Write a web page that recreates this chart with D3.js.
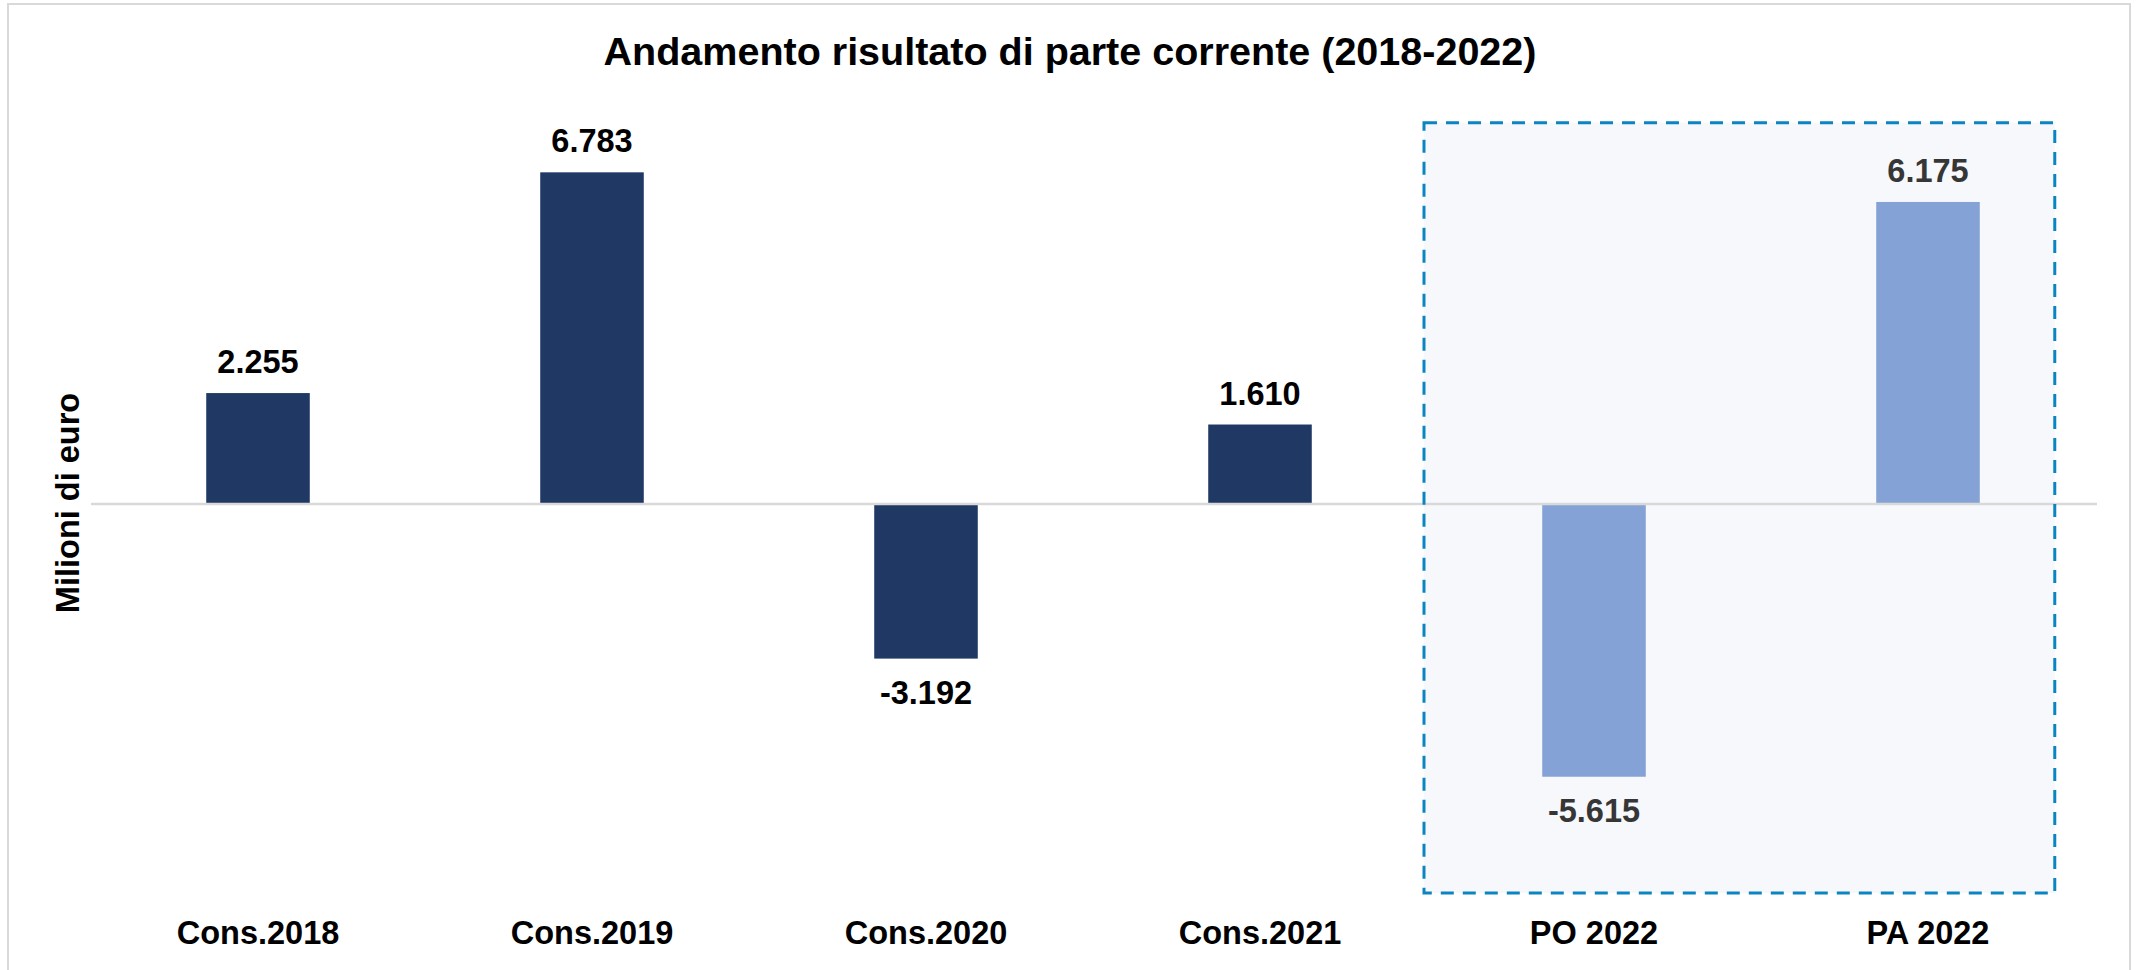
<!DOCTYPE html>
<html>
<head>
<meta charset="utf-8">
<script src="https://cdn.jsdelivr.net/npm/d3@7"></script>
<style>
  body { margin: 0; background: #fff; }
  svg text { font-family: "Liberation Sans", Arial, sans-serif; font-weight: bold; }
</style>
</head>
<body>
<svg width="2136" height="970"></svg>
<script>
// dati (milioni di euro)
var categories = ["Cons.2018", "Cons.2019", "Cons.2020", "Cons.2021", "PO 2022", "PA 2022"];
var values = [2255, 6783, -3192, 1610, -5615, 6175];
var kinds = ["cons", "cons", "cons", "cons", "prev", "prev"];
var yDomain = [-8000, 8000];

var title = "Andamento risultato di parte corrente (2018-2022)";
var yTitle = "Milioni di euro";

var svg = d3.select("svg"),
    width = +svg.attr("width"),
    height = +svg.attr("height");

var plot = {left: 91, right: 2095, top: 113, bottom: 893};

var barColor = {cons: "#203864", prev: "#84a2d5"};
var labelColor = {cons: "#000000", prev: "#363636"};

var it = d3.formatLocale({decimal: ",", thousands: ".", grouping: [3], currency: ["€", ""], minus: "-"});
var fmt = it.format(",d");

var data = categories.map(function(c, i) {
  return {cat: c, value: values[i], kind: kinds[i]};
});

var x = d3.scaleBand()
    .domain(categories)
    .range([plot.left, plot.right])
    .paddingInner(0.69)
    .paddingOuter(0.345);

var y = d3.scaleLinear()
    .domain(yDomain)
    .range([plot.bottom, plot.top]);

// cornice esterna
svg.append("rect")
    .attr("x", 8).attr("y", 4)
    .attr("width", 2122).attr("height", 1000)
    .attr("fill", "none")
    .attr("stroke", "#d9d9d9")
    .attr("stroke-width", 2);

// riquadro previsioni 2022
var boxLeft = x("PO 2022") - x.step() * x.paddingInner() / 2 - 3,
    boxRight = x("PA 2022") + x.bandwidth() + 75,
    boxTop = y(7800),
    boxBottom = y(yDomain[0]);

svg.append("rect")
    .attr("x", boxLeft).attr("y", boxTop)
    .attr("width", boxRight - boxLeft).attr("height", boxBottom - boxTop)
    .attr("fill", "#f6f8fc");

// barre
svg.append("g")
  .selectAll("rect")
  .data(data)
  .enter().append("rect")
    .attr("x", function(d) { return x(d.cat); })
    .attr("width", x.bandwidth())
    .attr("y", function(d) { return d.value > 0 ? y(d.value) : y(0); })
    .attr("height", function(d) { return Math.abs(y(d.value) - y(0)); })
    .attr("fill", function(d) { return barColor[d.kind]; });

// linea dello zero
svg.append("line")
    .attr("x1", plot.left).attr("x2", plot.right + 2)
    .attr("y1", y(0) + 1).attr("y2", y(0) + 1)
    .attr("stroke", "#d9d9d9")
    .attr("stroke-width", 2.5);

svg.append("rect")
    .attr("x", boxLeft).attr("y", boxTop)
    .attr("width", boxRight - boxLeft).attr("height", boxBottom - boxTop)
    .attr("fill", "none")
    .attr("stroke", "#0a85c2")
    .attr("stroke-width", 3)
    .attr("stroke-dasharray", "13 9");

// etichette dati
svg.append("g")
  .selectAll("text")
  .data(data)
  .enter().append("text")
    .attr("x", function(d) { return x(d.cat) + x.bandwidth() / 2; })
    .attr("y", function(d) { return d.value > 0 ? y(d.value) - 20 : y(d.value) + 45; })
    .attr("text-anchor", "middle")
    .attr("font-size", 32.5)
    .attr("fill", function(d) { return labelColor[d.kind]; })
    .text(function(d) { return fmt(d.value); });

// asse x
var xAxis = svg.append("g")
    .attr("transform", "translate(0," + plot.bottom + ")")
    .call(d3.axisBottom(x).tickSize(0).tickPadding(28));
xAxis.select(".domain").remove();
xAxis.selectAll("text")
    .attr("font-size", 32.5)
    .attr("font-family", null)
    .attr("fill", "#000");

// titoli
svg.append("text")
    .attr("x", 1070).attr("y", 65)
    .attr("text-anchor", "middle")
    .attr("font-size", 39.5)
    .attr("fill", "#000")
    .text(title);

svg.append("text")
    .attr("transform", "translate(79," + y(0) + ") rotate(-90)")
    .attr("text-anchor", "middle")
    .attr("font-size", 32.5)
    .attr("fill", "#000")
    .text(yTitle);
</script>
</body>
</html>
